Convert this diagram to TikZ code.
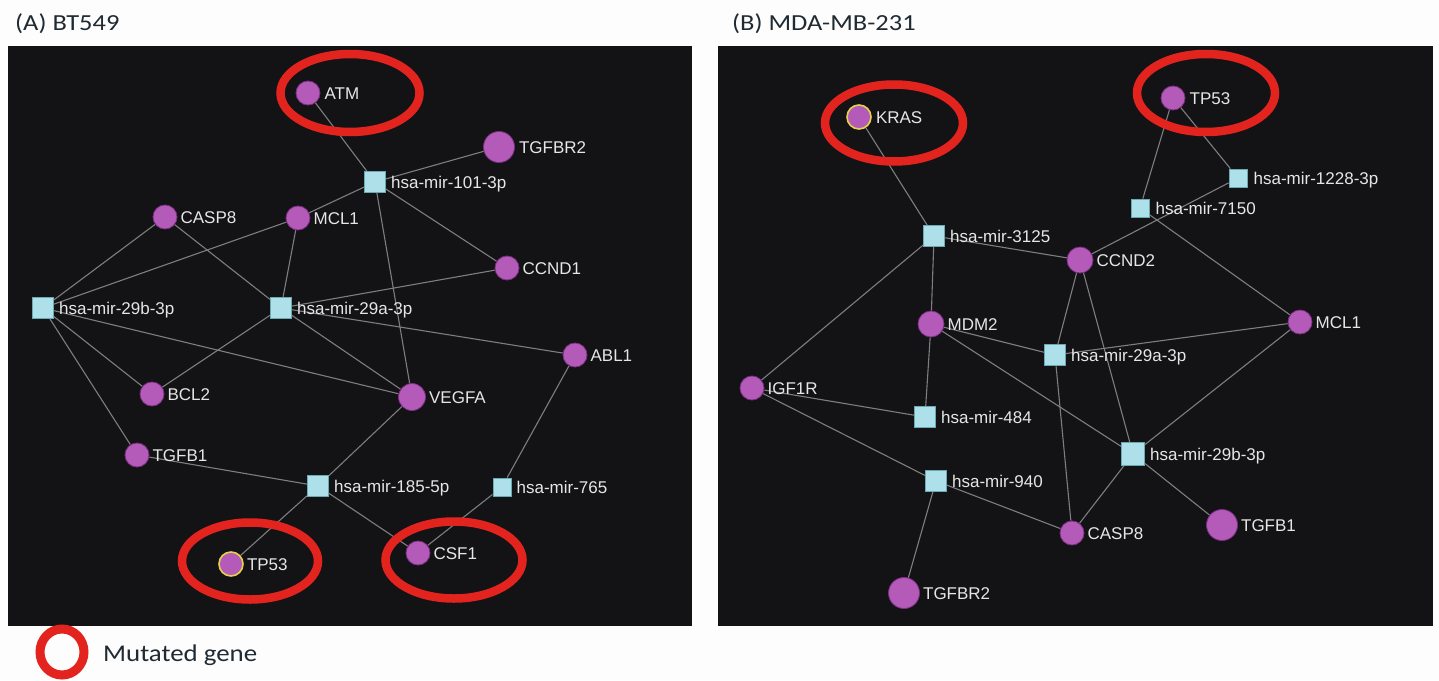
\documentclass[tikz,border=0pt]{standalone}
\usepackage{fontspec}
\setmainfont{Carlito}
\newfontfamily\lblfont{Liberation Sans}
\newfontfamily\titlefont[FakeStretch=1.15]{Carlito}
\newfontfamily\legfont[FakeStretch=1.12]{Carlito}
\usetikzlibrary{shapes.geometric}
\definecolor{pagebg}{HTML}{FDFDFD}
\definecolor{panelbg}{HTML}{131316}
\definecolor{edgecol}{HTML}{7E7E80}
\definecolor{genefill}{HTML}{B45AB8}
\definecolor{geneborder}{HTML}{7D2F86}
\definecolor{mirfill}{HTML}{AEE0EA}
\definecolor{mirborder}{HTML}{6BA9B5}
\definecolor{ringred}{HTML}{E3241E}
\definecolor{mutyellow}{HTML}{E6D24A}
\definecolor{lbltext}{HTML}{E6E6E6}
\definecolor{titletext}{HTML}{1F2A32}
\pgfdeclarelayer{back}
\pgfdeclarelayer{edges}
\pgfsetlayers{back,edges,main}
\tikzset{
  gene/.style={circle, fill=genefill, draw=geneborder, line width=0.8pt, minimum size=24pt, inner sep=0pt},
  biggene/.style={gene, minimum size=31pt},
  mutgene/.style={draw=mutyellow, line width=1.6pt},
  mirbox/.style={rectangle, fill=mirfill, draw=mirborder, line width=0.8pt, minimum size=21pt, inner sep=0pt},
  smallmir/.style={mirbox, minimum size=18pt},
  lbl/.style={text=lbltext, font=\lblfont\fontsize{17}{20}\selectfont, inner sep=0pt, anchor=base west},
  edge/.style={draw=edgecol, line width=1.1pt},
  mutring/.style={ellipse, draw=ringred, line width=8.5pt, inner sep=0pt},
  paneltitle/.style={text=titletext, font=\titlefont\fontsize{23}{26}\selectfont, inner sep=0pt, anchor=base west},
}
\newcommand{\lab}[3]{\node[lbl] (#1l) at ([xshift=#3, yshift=-6pt]#1.east) {#2};}
\begin{document}
\begin{tikzpicture}[x=1pt,y=-1pt]
\useasboundingbox (0,0) rectangle (1439,680);
\begin{pgfonlayer}{back}
\fill[pagebg] (0,0) rectangle (1439,680);
\fill[panelbg] (8,46) rectangle (692,626);
\fill[panelbg] (718,46) rectangle (1433,626);
\end{pgfonlayer}

% titles
\node[paneltitle] (tA) at (15,30) {(A) BT549};
\node[paneltitle] (tB) at (732,30) {(B) MDA-MB-231};

% ---------- Panel A ----------
\node[gene] (aATM) at (308,93) {};
\node[biggene] (aTGFBR2) at (499,147) {};
\node[mirbox] (a101) at (375,182) {};
\node[gene] (aCASP8) at (165,217) {};
\node[gene] (aMCL1) at (298,218) {};
\node[gene] (aCCND1) at (507,268) {};
\node[mirbox] (a29b) at (43,308) {};
\node[mirbox] (a29a) at (281,308) {};
\node[gene] (aABL1) at (575,355) {};
\node[gene] (aBCL2) at (152,394) {};
\node[biggene, minimum size=27pt] (aVEGFA) at (412,397) {};
\node[gene] (aTGFB1) at (137,455) {};
\node[mirbox] (a185) at (318,486) {};
\node[smallmir] (a765) at (502,487) {};
\node[gene, mutgene] (aTP53) at (231,564) {};
\node[gene] (aCSF1) at (418,553) {};

\lab{aATM}{ATM}{4pt}
\lab{aTGFBR2}{TGFBR2}{4pt}
\lab{a101}{hsa-mir-101-3p}{5pt}
\lab{aCASP8}{CASP8}{3pt}
\lab{aMCL1}{MCL1}{3pt}
\lab{aCCND1}{CCND1}{3pt}
\lab{a29b}{hsa-mir-29b-3p}{5pt}
\lab{a29a}{hsa-mir-29a-3p}{5pt}
\lab{aABL1}{ABL1}{3pt}
\lab{aBCL2}{BCL2}{3pt}
\lab{aVEGFA}{VEGFA}{3pt}
\lab{aTGFB1}{TGFB1}{3pt}
\lab{a185}{hsa-mir-185-5p}{5pt}
\lab{a765}{hsa-mir-765}{5pt}
\lab{aTP53}{TP53}{3pt}
\lab{aCSF1}{CSF1}{3pt}

\begin{pgfonlayer}{edges}
\draw[edge] (aATM) -- (a101);
\draw[edge] (aTGFBR2) -- (a101);
\draw[edge] (a101) -- (aMCL1);
\draw[edge] (a101) -- (aCCND1);
\draw[edge] (a101) -- (aVEGFA);
\draw[edge] (aCASP8) -- (a29b);
\draw[edge] (aCASP8) -- (a29a);
\draw[edge] (aMCL1) -- (a29b);
\draw[edge] (aMCL1) -- (a29a);
\draw[edge] (aCCND1) -- (a29a);
\draw[edge] (a29b) -- (aBCL2);
\draw[edge] (a29b) -- (aTGFB1);
\draw[edge] (a29b) -- (aVEGFA);
\draw[edge] (a29a) -- (aBCL2);
\draw[edge] (a29a) -- (aVEGFA);
\draw[edge] (a29a) -- (aABL1);
\draw[edge] (aVEGFA) -- (a185);
\draw[edge] (aTGFB1) -- (a185);
\draw[edge] (a185) -- (aTP53);
\draw[edge] (a185) -- (aCSF1);
\draw[edge] (aABL1) -- (a765);
\draw[edge] (a765) -- (aCSF1);
\end{pgfonlayer}

\node[mutring, minimum width=139pt, minimum height=78pt] (rATM) at (350,93) {};
\node[mutring, minimum width=136pt, minimum height=77pt] (rTP53A) at (250,561) {};
\node[mutring, minimum width=137pt, minimum height=77pt] (rCSF1) at (454,560) {};

% ---------- Panel B ----------
\node[gene, mutgene] (bKRAS) at (859,117) {};
\node[gene] (bTP53) at (1173,98) {};
\node[smallmir] (b1228) at (1238,178) {};
\node[smallmir] (b7150) at (1140,208) {};
\node[mirbox] (b3125) at (934,236) {};
\node[gene, minimum size=26pt] (bCCND2) at (1080,260) {};
\node[gene, minimum size=26pt] (bMDM2) at (931,324) {};
\node[gene] (bMCL1) at (1300,322) {};
\node[mirbox] (b29a) at (1055,355) {};
\node[gene] (bIGF1R) at (752,388) {};
\node[mirbox] (b484) at (925,417) {};
\node[mirbox, minimum size=23pt] (b29b) at (1133,454) {};
\node[mirbox] (b940) at (936,481) {};
\node[gene] (bCASP8) at (1072,533) {};
\node[biggene] (bTGFB1) at (1222,525) {};
\node[biggene] (bTGFBR2) at (904,593) {};

\lab{bKRAS}{KRAS}{4pt}
\lab{bTP53}{TP53}{4pt}
\lab{b1228}{hsa-mir-1228-3p}{6pt}
\lab{b7150}{hsa-mir-7150}{6pt}
\lab{b3125}{hsa-mir-3125}{5pt}
\lab{bCCND2}{CCND2}{3pt}
\lab{bMDM2}{MDM2}{3pt}
\lab{bMCL1}{MCL1}{3pt}
\lab{b29a}{hsa-mir-29a-3p}{5pt}
\lab{bIGF1R}{IGF1R}{3pt}
\lab{b484}{hsa-mir-484}{5pt}
\lab{b29b}{hsa-mir-29b-3p}{5pt}
\lab{b940}{hsa-mir-940}{5pt}
\lab{bCASP8}{CASP8}{3pt}
\lab{bTGFB1}{TGFB1}{3pt}
\lab{bTGFBR2}{TGFBR2}{3pt}

\begin{pgfonlayer}{edges}
\draw[edge] (bKRAS) -- (b3125);
\draw[edge] (bTP53) -- (b7150);
\draw[edge] (bTP53) -- (b1228);
\draw[edge] (b1228) -- (bCCND2);
\draw[edge] (b7150) -- (bMCL1);
\draw[edge] (b3125) -- (bCCND2);
\draw[edge] (b3125) -- (bMDM2);
\draw[edge] (b3125) -- (bIGF1R);
\draw[edge] (bCCND2) -- (b29a);
\draw[edge] (bCCND2) -- (b29b);
\draw[edge] (bMCL1) -- (b29a);
\draw[edge] (bMCL1) -- (b29b);
\draw[edge] (bMDM2) -- (b29a);
\draw[edge] (bMDM2) -- (b484);
\draw[edge] (bMDM2) -- (b29b);
\draw[edge] (bIGF1R) -- (b484);
\draw[edge] (bIGF1R) -- (b940);
\draw[edge] (b29a) -- (bCASP8);
\draw[edge] (b29b) -- (bCASP8);
\draw[edge] (b29b) -- (bTGFB1);
\draw[edge] (b940) -- (bCASP8);
\draw[edge] (b940) -- (bTGFBR2);
\end{pgfonlayer}

\node[mutring, minimum width=138pt, minimum height=77pt] (rKRAS) at (894,123) {};
\node[mutring, minimum width=138pt, minimum height=78pt] (rTP53B) at (1206,93) {};

% ---------- Legend ----------
\node[mutring, minimum width=44pt, minimum height=46pt, line width=9pt] (legring) at (62,652) {};
\node[text=titletext, font=\legfont\fontsize{24}{28}\selectfont, inner sep=0pt, anchor=base west] (legtext) at (103,661) {Mutated gene};
\end{tikzpicture}
\end{document}
